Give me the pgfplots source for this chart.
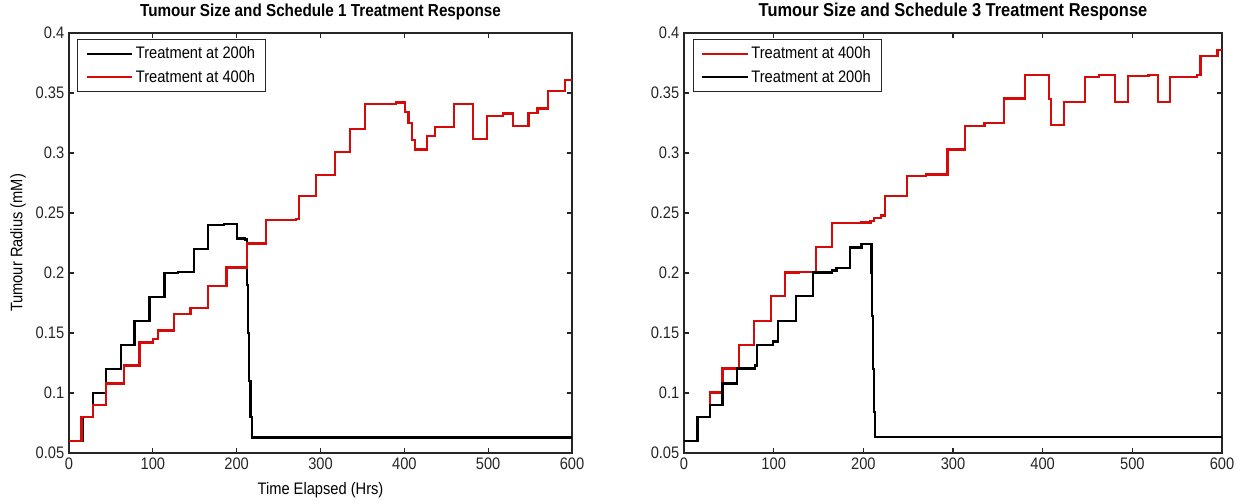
\documentclass[border=0pt]{standalone}
\usepackage{fontspec}
\setmainfont{Liberation Sans}[FakeStretch=0.88]
\usepackage{pgfplots}
\pgfplotsset{compat=1.18}
\definecolor{tred}{RGB}{215,10,10}
\pgfplotsset{
  tumour/.style={
    scale only axis,
    height=315pt,
    xmin=0,xmax=600,ymin=0.05,ymax=0.4,
    xtick={0,100,200,300,400,500,600},
    xticklabels={0,100,200,300,400,500,600},
    ytick={0.05,0.1,0.15,0.2,0.25,0.3,0.35,0.4},
    yticklabels={0.05,0.1,0.15,0.2,0.25,0.3,0.35,0.4},
    tick align=inside, tick pos=both, major tick length=4pt,
    axis line style={line width=0.8pt, black!85},
    every tick/.style={line width=0.8pt, black!85},
    ticklabel style={font=\fontsize{12.5}{14}\selectfont, text=black!85},
    legend cell align=left,
    legend style={at={(0.016,0.986)}, anchor=north west, draw=black!85, line width=0.8pt,
      font=\fontsize{12.5}{14}\selectfont, inner xsep=6pt, inner ysep=3.5pt, row sep=3pt},
    legend image code/.code={\draw[#1, line width=1.7pt] plot coordinates {(0pt,0pt) (34pt,0pt)};},
    every axis title/.style={font=\bfseries\fontsize{13}{15}\selectfont, at={(0.5,1)}, anchor=base, yshift=12pt},
  }
}
\begin{document}
\begin{tikzpicture}
\useasboundingbox (0,0) rectangle (933pt,377.25pt);
\begin{axis}[tumour, at={(51.75pt,37.5pt)}, anchor=south west, width=377.25pt,
  title={Tumour Size and Schedule 1 Treatment Response},
  xlabel={Time Elapsed (Hrs)}, ylabel={Tumour Radius (mM)},
  xlabel style={font=\fontsize{12.5}{14}\selectfont, at={(axis description cs:0.5,0)}, anchor=center, yshift=-27.75pt},
  ylabel style={font=\fontsize{12.5}{14}\selectfont, at={(axis description cs:-0.1014,0.5)}, anchor=center},
]
\addplot[black, line width=1.7pt, const plot] coordinates {
(0,0.06) (16,0.08) (29,0.10) (44,0.12) (62,0.14) (78,0.16) (96,0.18) (114,0.20) (130,0.201)
(149,0.22) (166,0.24) (185,0.241) (200,0.2287) (210,0.228) (212,0.19) (213.5,0.15) (215,0.11)
(216.5,0.08) (218,0.063) (600,0.063)};
\addlegendentry{Treatment at 200h}
\addplot[tred, line width=1.7pt, const plot] coordinates {
(0,0.06) (15,0.08) (29,0.09) (44,0.108) (66,0.123) (84,0.142) (100,0.145) (106,0.152) (125,0.166)
(145,0.171) (166,0.189) (188,0.2045) (212,0.2245) (235,0.2439) (271,0.245) (274,0.2642)
(295,0.2817) (317,0.3008) (335,0.3203) (353,0.341) (390,0.342) (401,0.334) (405,0.325)
(409,0.311) (413,0.303) (427,0.314) (437,0.3217) (459,0.341) (482,0.3114) (498.6,0.3309)
(518,0.333) (530,0.3222) (548,0.3333) (559,0.337) (571,0.3517) (591.6,0.3606) (600,0.3606)};
\addlegendentry{Treatment at 400h}
\end{axis}
\begin{axis}[tumour, at={(513pt,37.5pt)}, anchor=south west, width=403.5pt,
  title={Tumour Size and Schedule 3 Treatment Response},
  title style={font=\bfseries\fontsize{14}{16}\selectfont},
]
\addplot[tred, line width=1.7pt, const plot] coordinates {
(0,0.06) (15,0.08) (29,0.1005) (43,0.1205) (61,0.140) (78,0.160) (97,0.1806) (113,0.2005)
(128,0.201) (147,0.2215) (165,0.2414) (198,0.242) (208,0.2435) (212,0.246) (220,0.248)
(224,0.264) (249,0.2808) (270,0.282) (294,0.3029) (313,0.3227) (335,0.325) (357,0.3455)
(380,0.365) (407,0.345) (409,0.3236) (424,0.3428) (447,0.3635) (463,0.365) (481,0.3428)
(495,0.364) (518,0.365) (529,0.3428) (542,0.3635) (572,0.365) (576,0.3808) (595,0.386) (600,0.386)};
\addlegendentry{Treatment at 400h}
\addplot[black, line width=1.7pt, const plot] coordinates {
(0,0.06) (15,0.08) (29,0.09) (43,0.108) (59,0.1205) (79.5,0.123) (81,0.140) (99,0.143)
(105,0.1602) (125,0.1806) (144,0.2005) (165,0.202) (170,0.2041) (185,0.2212) (198,0.2242)
(209,0.20) (210,0.164) (211,0.12) (212,0.084) (213,0.0633) (600,0.0633)};
\addlegendentry{Treatment at 200h}
\end{axis}
\end{tikzpicture}
\end{document}
